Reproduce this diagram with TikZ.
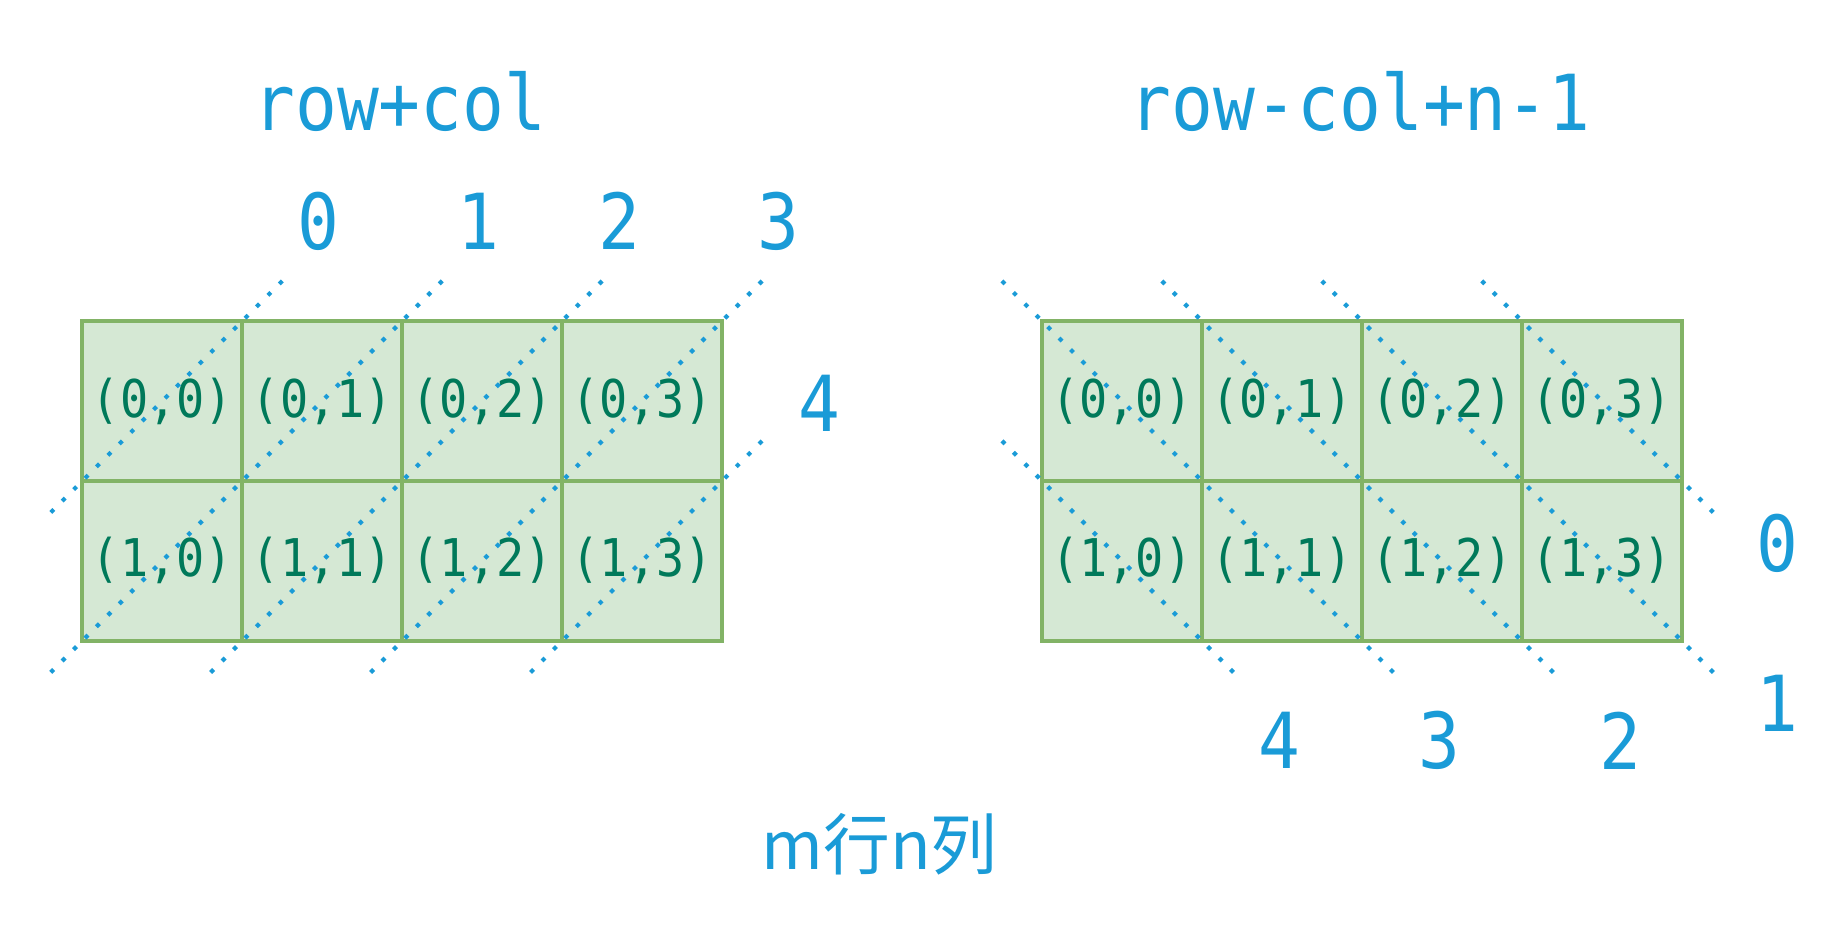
\documentclass[tikz,border=0pt]{standalone}
\usepackage{fontspec}
\setmonofont[FakeStretch=0.9]{DejaVu Sans Mono}
\newfontfamily\cjkfont{Noto Sans CJK SC}
\usetikzlibrary{calc}
\definecolor{numblue}{HTML}{1A9BD7}
\definecolor{cellfill}{HTML}{D5E8D4}
\definecolor{celledge}{HTML}{82B366}
\definecolor{celltext}{HTML}{00795A}
\tikzset{cellbox/.style={draw=celledge,fill=cellfill,line width=1.1pt,minimum size=1.6cm,inner sep=0pt,outer sep=0pt,text=celltext,font=\ttfamily\fontsize{14.8}{16}\selectfont}}
\tikzset{diag/.style={numblue,line width=1.2pt,dash pattern=on 1.2pt off 3.4pt,shorten <=-5.66mm,shorten >=-5.66mm}}
\tikzset{numlabel/.style={text=numblue,inner sep=0pt,font=\ttfamily\fontsize{22}{24}\selectfont}}

\begin{document}
\begin{tikzpicture}[x=1.6cm,y=1.6cm]
		\useasboundingbox (-0.515,-3.772) rectangle (11.015,2.007);
		\foreach \r in {0,1}
		\foreach \c in {0,...,3}
		{
			\node[cellbox] (l\r\c) at (\c+0.5,-\r-0.5) {(\r,\c)};
			\node[cellbox] (r\r\c) at (\c+6.5,-\r-0.5) {(\r,\c)};
		}
		\foreach \from/\to in {l00/l00,l01/l10,l02/l11,l03/l12,l13/l13}
			\draw[diag] (\from.north east) -- (\to.south west);
		\foreach \from/\to in {r03/r03,r02/r13,r01/r12,r00/r11,r10/r10}
			\draw[diag] (\from.north west) -- (\to.south east);
		\node[numlabel] (sumtitle) at (1.985,1.37) {row+col};
		\node[numlabel] (difftitle) at (7.99,1.37) {row-col+n-1};
		\foreach \x/\y/\k in {1.478/0.625/0,2.478/0.625/1,3.36/0.625/2,4.353/0.625/3,4.61/-0.515/4}
			\node[numlabel] (sum\k) at (\x,\y) {\k};
		\foreach \x/\y/\k in {10.6/-1.39/0,10.6/-2.39/1,9.62/-2.625/2,8.485/-2.625/3,7.485/-2.625/4}
			\node[numlabel] (diff\k) at (\x,\y) {\k};
		\node[text=numblue,inner sep=0pt,font=\cjkfont\fontsize{19}{22}\selectfont] (caption) at (4.985,-3.27) {m行n列};
\end{tikzpicture}
\end{document}
